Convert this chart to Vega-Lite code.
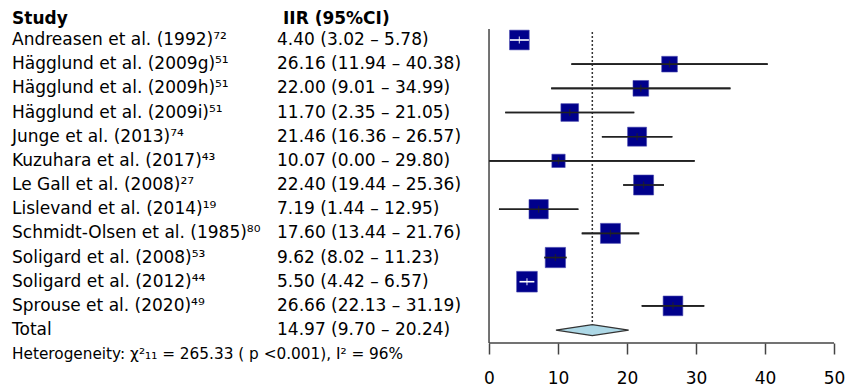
{
  "$schema": "https://vega.github.io/schema/vega-lite/v6.json",
  "width": 845,
  "height": 343,
  "autosize": "none",
  "padding": {"left": 0, "top": 0, "right": 0, "bottom": 43},
  "background": "white",
  "config": {"view": {"stroke": null}, "font": "DejaVu Sans", "text": {"font": "DejaVu Sans"}},
  "datasets": {
    "rows": [
      {"row": 1, "study": "Andreasen et al. (1992)⁷²", "ci": "4.40 (3.02 – 5.78)", "est": 4.40, "lo": 3.02, "hi": 5.78, "w": 8.91, "kind": "study"},
      {"row": 2, "study": "Hägglund et al. (2009g)⁵¹", "ci": "26.16 (11.94 – 40.38)", "est": 26.16, "lo": 11.94, "hi": 40.38, "w": 7.10, "kind": "study"},
      {"row": 3, "study": "Hägglund et al. (2009h)⁵¹", "ci": "22.00 (9.01 – 34.99)", "est": 22.00, "lo": 9.01, "hi": 34.99, "w": 7.10, "kind": "study"},
      {"row": 4, "study": "Hägglund et al. (2009i)⁵¹", "ci": "11.70 (2.35 – 21.05)", "est": 11.70, "lo": 2.35, "hi": 21.05, "w": 8.01, "kind": "study"},
      {"row": 5, "study": "Junge et al. (2013)⁷⁴", "ci": "21.46 (16.36 – 26.57)", "est": 21.46, "lo": 16.36, "hi": 26.57, "w": 8.59, "kind": "study"},
      {"row": 6, "study": "Kuzuhara et al. (2017)⁴³", "ci": "10.07 (0.00 – 29.80)", "est": 10.07, "lo": 0.00, "hi": 29.80, "w": 6.02, "kind": "study"},
      {"row": 7, "study": "Le Gall et al. (2008)²⁷", "ci": "22.40 (19.44 – 25.36)", "est": 22.40, "lo": 19.44, "hi": 25.36, "w": 9.05, "kind": "study"},
      {"row": 8, "study": "Lislevand et al. (2014)¹⁹", "ci": "7.19 (1.44 – 12.95)", "est": 7.19, "lo": 1.44, "hi": 12.95, "w": 8.73, "kind": "study"},
      {"row": 9, "study": "Schmidt-Olsen et al. (1985)⁸⁰", "ci": "17.60 (13.44 – 21.76)", "est": 17.60, "lo": 13.44, "hi": 21.76, "w": 9.05, "kind": "study"},
      {"row": 10, "study": "Soligard et al. (2008)⁵³", "ci": "9.62 (8.02 – 11.23)", "est": 9.62, "lo": 8.02, "hi": 11.23, "w": 9.18, "kind": "study"},
      {"row": 11, "study": "Soligard et al. (2012)⁴⁴", "ci": "5.50 (4.42 – 6.57)", "est": 5.50, "lo": 4.42, "hi": 6.57, "w": 9.36, "kind": "study"},
      {"row": 12, "study": "Sprouse et al. (2020)⁴⁹", "ci": "26.66 (22.13 – 31.19)", "est": 26.66, "lo": 22.13, "hi": 31.19, "w": 8.91, "kind": "study"},
      {"row": 13, "study": "Total", "ci": "14.97 (9.70 – 20.24)", "est": 14.97, "lo": 9.70, "hi": 20.24, "w": null, "kind": "total"}
    ],
    "headers": [
      {"row": 0, "study": "Study", "ci": "IIR (95%CI)"}
    ],
    "notes": [
      {"row": 14, "text": "Heterogeneity: χ²₁₁ = 265.33 ( p <0.001), I² = 96%"}
    ]
  },
  "layer": [
    {
      "data": {"name": "rows"},
      "transform": [{"filter": "datum.kind === 'study'"}],
      "mark": {"type": "rule", "color": "#222", "strokeWidth": 1.6},
      "encoding": {
        "x": {"field": "lo", "type": "quantitative", "scale": {"domain": [-70.87, 51.59], "nice": false, "zero": false},
          "axis": {"values": [0, 10, 20, 30, 40, 50], "domain": false, "grid": false, "tickSize": 11, "tickColor": "#444", "tickWidth": 1.5, "labelFontSize": 17, "labelColor": "#000", "labelPadding": 16, "labelFont": "DejaVu Sans", "title": null}},
        "x2": {"field": "hi"},
        "y": {"field": "row", "type": "quantitative", "scale": {"domain": [-0.655, 13.536], "reverse": true, "nice": false, "zero": false}, "axis": null}
      }
    },
    {
      "data": {"name": "rows"},
      "mark": {"type": "rule", "color": "#444", "strokeWidth": 1.5},
      "transform": [{"filter": "datum.row === 1"}],
      "encoding": {
        "x": {"datum": 0, "type": "quantitative"},
        "y": {"datum": 0.54, "type": "quantitative"},
        "y2": {"datum": 13.536}
      }
    },
    {
      "data": {"name": "rows"},
      "mark": {"type": "rule", "color": "#444", "strokeWidth": 1.5},
      "transform": [{"filter": "datum.row === 1"}],
      "encoding": {
        "x": {"datum": 0, "type": "quantitative"},
        "x2": {"datum": 50},
        "y": {"datum": 13.536, "type": "quantitative"}
      }
    },
    {
      "data": {"name": "rows"},
      "transform": [{"filter": "datum.kind === 'total'"}],
      "mark": {"type": "rule", "color": "#333", "strokeWidth": 1.5, "strokeDash": [2, 2]},
      "encoding": {
        "x": {"field": "est", "type": "quantitative"},
        "y": {"datum": 0.67, "type": "quantitative"},
        "y2": {"datum": 12.75}
      }
    },
    {
      "data": {"name": "rows"},
      "transform": [{"filter": "datum.kind === 'study'"}],
      "mark": {"type": "point", "shape": "square", "filled": true, "opacity": 1, "color": "#00008B", "stroke": "#4a4ab0", "strokeWidth": 0.6},
      "encoding": {
        "x": {"field": "est", "type": "quantitative"},
        "y": {"field": "row", "type": "quantitative"},
        "size": {"field": "w", "type": "quantitative", "scale": {"type": "pow", "exponent": 2, "domain": [0, 10], "range": [0, 489]}, "legend": null}
      }
    },
    {
      "data": {"name": "rows"},
      "transform": [{"filter": "datum.kind === 'study'"}],
      "mark": {"type": "rule", "strokeWidth": 1.6},
      "encoding": {
        "x": {"field": "lo", "type": "quantitative"},
        "x2": {"field": "hi"},
        "y": {"field": "row", "type": "quantitative"},
        "color": {"condition": {"test": "datum.hi - datum.lo < 3", "value": "white"}, "value": "#222"}
      }
    },
    {
      "data": {"name": "rows"},
      "transform": [{"filter": "datum.kind === 'study'"}],
      "mark": {"type": "tick", "orient": "vertical", "size": 7, "thickness": 1.3},
      "encoding": {
        "x": {"field": "est", "type": "quantitative"},
        "y": {"field": "row", "type": "quantitative"},
        "color": {"condition": {"test": "datum.hi - datum.lo < 3", "value": "white"}, "value": "#222"}
      }
    },
    {
      "data": {"name": "rows"},
      "transform": [{"filter": "datum.kind === 'total'"}],
      "mark": {"type": "point", "shape": "M-1,0L0,-0.151L1,0L0,0.151Z", "filled": true, "opacity": 1, "fill": "#ADD8E6", "stroke": "#333", "strokeWidth": 1.2, "size": 5285},
      "encoding": {
        "x": {"field": "est", "type": "quantitative"},
        "y": {"field": "row", "type": "quantitative"}
      }
    },
    {
      "data": {"name": "rows"},
      "mark": {"type": "text", "align": "left", "baseline": "middle", "fontSize": 17, "color": "#000"},
      "encoding": {
        "x": {"datum": -69.13, "type": "quantitative"},
        "y": {"field": "row", "type": "quantitative"},
        "text": {"field": "study"}
      }
    },
    {
      "data": {"name": "rows"},
      "mark": {"type": "text", "align": "left", "baseline": "middle", "fontSize": 17, "color": "#000"},
      "encoding": {
        "x": {"datum": -30.72, "type": "quantitative"},
        "y": {"field": "row", "type": "quantitative"},
        "text": {"field": "ci"}
      }
    },
    {
      "data": {"name": "headers"},
      "mark": {"type": "text", "align": "left", "baseline": "middle", "fontSize": 17, "fontWeight": "bold", "color": "#000", "dy": 3},
      "encoding": {
        "x": {"datum": -69.13, "type": "quantitative"},
        "y": {"field": "row", "type": "quantitative"},
        "text": {"field": "study"}
      }
    },
    {
      "data": {"name": "headers"},
      "mark": {"type": "text", "align": "left", "baseline": "middle", "fontSize": 17, "fontWeight": "bold", "color": "#000", "dy": 3},
      "encoding": {
        "x": {"datum": -29.86, "type": "quantitative"},
        "y": {"field": "row", "type": "quantitative"},
        "text": {"field": "ci"}
      }
    },
    {
      "data": {"name": "notes"},
      "mark": {"type": "text", "align": "left", "baseline": "middle", "fontSize": 15.3, "color": "#000"},
      "encoding": {
        "x": {"datum": -69.13, "type": "quantitative"},
        "y": {"field": "row", "type": "quantitative"},
        "text": {"field": "text"}
      }
    }
  ]
}
